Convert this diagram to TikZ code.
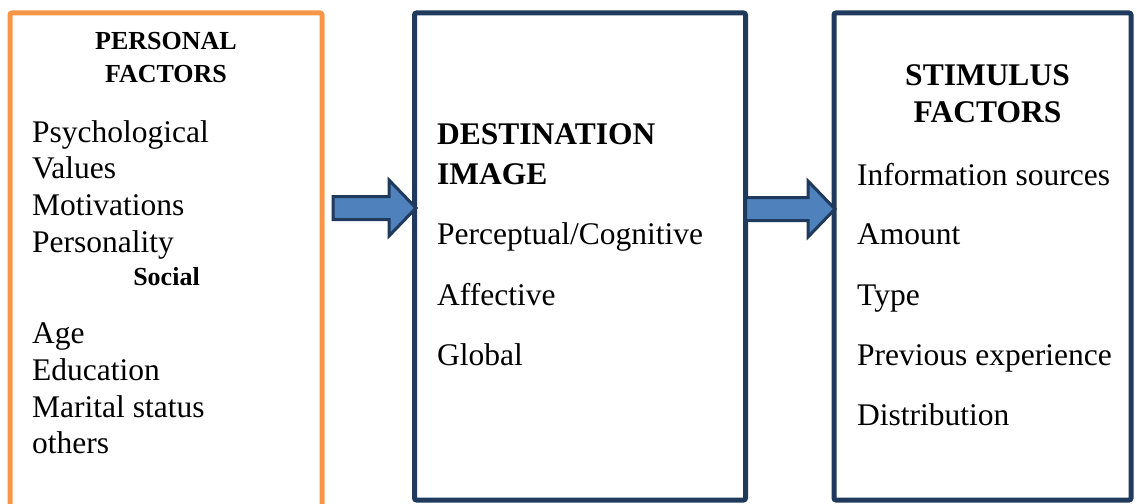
\documentclass[tikz,border=0pt]{standalone}
\usepackage{fontspec}
\setmainfont{Liberation Serif}
\usetikzlibrary{calc}
\definecolor{orangeb}{HTML}{F79646}
\definecolor{navyb}{HTML}{1F3A5C}
\definecolor{arrowfill}{HTML}{4F81BD}
\tikzset{
  boxo/.style={draw=orangeb, line width=5pt, rounded corners=2pt, inner sep=0pt},
  boxn/.style={draw=navyb, line width=5pt, rounded corners=2pt, inner sep=0pt},
  itemtxt/.style={anchor=base west, inner sep=0pt, font=\fontsize{31.5}{36}\selectfont},
  headl/.style={anchor=base, inner sep=0pt, font=\fontsize{26}{30}\selectfont\bfseries},
  headb/.style={inner sep=0pt, font=\fontsize{31.5}{36}\selectfont\bfseries},
  barrow/.style={draw=navyb, fill=arrowfill, line width=3pt, line join=miter}
}
\newcommand{\bigarrow}[2]{%
  \draw[barrow] let \p1=(#1), \p2=(#2) in
    (\x1,\y1+11.5) -- (\x2-27,\y1+11.5) -- (\x2-27,\y1+28) -- (\x2,\y1)
    -- (\x2-27,\y1-28) -- (\x2-27,\y1-11.5) -- (\x1,\y1-11.5) -- cycle;}
\begin{document}
\begin{tikzpicture}[x=1pt,y=-1pt]
\useasboundingbox (0,0) rectangle (1137,503);
\clip (0,0) rectangle (1137,503);
% boxes
\node[boxo, minimum width=312pt, minimum height=527pt] (pf) at (166,276.5) {};
\node[boxn, minimum width=331pt, minimum height=487pt] (di) at (580,256.5) {};
\node[boxn, minimum width=297pt, minimum height=487pt] (sf) at (982.5,256.5) {};
% arrows
\coordinate (a1s) at (333,208);
\coordinate (a1e) at (416,208);
\coordinate (a2s) at (745.5,209);
\coordinate (a2e) at (835,209);
\bigarrow{a1s}{a1e}
\bigarrow{a2s}{a2e}
% left box text
\node[headl] (pfh1) at (166,50) {PERSONAL};
\node[headl] (pfh2) at (166,82) {FACTORS};
\node[itemtxt] (l1) at (32,142) {Psychological};
\node[itemtxt] (l2) at (32,178) {Values};
\node[itemtxt] (l3) at (32,215) {Motivations};
\node[itemtxt] (l4) at (32,252) {Personality};
\node[headl] (soc) at (166.5,285) {Social};
\node[itemtxt] (l5) at (32,343) {Age};
\node[itemtxt] (l6) at (32,380) {Education};
\node[itemtxt] (l7) at (32,417) {Marital status};
\node[itemtxt] (l8) at (32,453) {others};
% middle box text
\node[headb, anchor=base west] (dih1) at (437,144) {DESTINATION};
\node[headb, anchor=base west] (dih2) at (437,184) {IMAGE};
\node[itemtxt] (m1) at (437,244) {Perceptual/Cognitive};
\node[itemtxt] (m2) at (437,305) {Affective};
\node[itemtxt] (m3) at (437,365) {Global};
% right box text
\node[headb, anchor=base] (sfh1) at (987.5,85) {STIMULUS};
\node[headb, anchor=base] (sfh2) at (987.5,122) {FACTORS};
\node[itemtxt] (r1) at (857,185) {Information sources};
\node[itemtxt] (r2) at (857,244) {Amount};
\node[itemtxt] (r3) at (857,305) {Type};
\node[itemtxt] (r4) at (857,365) {Previous experience};
\node[itemtxt] (r5) at (857,425) {Distribution};
\end{tikzpicture}
\end{document}
